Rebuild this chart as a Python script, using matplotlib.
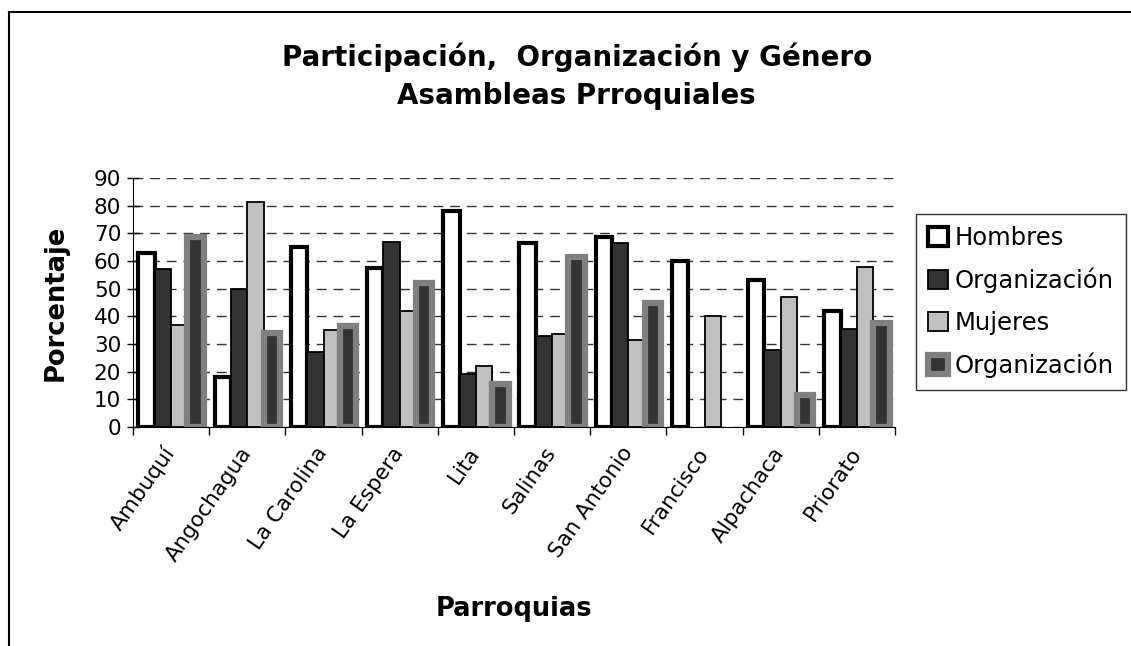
import numpy as np
import matplotlib.pyplot as plt
from matplotlib.lines import Line2D

parroquias = ['Ambuquí', 'Angochagua', 'La Carolina', 'La Espera', 'Lita',
              'Salinas', 'San Antonio', 'Francisco', 'Alpachaca', 'Priorato']
hombres = [63, 18, 65, 57.5, 78, 66.5, 68.5, 60, 53, 42]
org_hombres = [57, 50, 27, 67, 19, 33, 66.5, np.nan, 28, 35.5]
mujeres = [37, 81.5, 35, 42, 22, 33.5, 31.5, 40, 47, 58]
org_mujeres = [68.5, 34, 36.5, 52, 15.5, 61.5, 45, np.nan, 11.5, 37.5]

W, H = 1131, 646
fig = plt.figure(figsize=(W / 100, H / 100), dpi=100)
ax = fig.add_axes([133 / W, 1 - 427 / H, 762 / W, 249 / H])

x = np.arange(len(parroquias))
w = 0.215
ax.bar(x - 1.5 * w, hombres, w, color='white', edgecolor='black', lw=3, label='Hombres')
ax.bar(x - 0.5 * w, org_hombres, w, color='#333333', edgecolor='black', lw=1.3, label='Organización')
ax.bar(x + 0.5 * w, mujeres, w, color='#c0c0c0', edgecolor='black', lw=1.3, label='Mujeres')
ax.bar(x + 1.5 * w, org_mujeres, w, color='#333333', edgecolor='#808080', lw=4.5, label='Organización')

ax.set_xlim(-0.5, len(parroquias) - 0.5)
ax.set_ylim(0, 90)
ax.set_yticks(range(0, 91, 10))
ax.set_xticks(np.arange(-0.5, len(parroquias)), labels=[])
ax.set_xticks(x, minor=True)
ax.set_xticklabels(parroquias, minor=True, rotation=55, ha='right', va='center',
                   rotation_mode='anchor', fontsize=15.5)
ax.tick_params(axis='x', which='minor', length=0, pad=16)
ax.tick_params(axis='x', which='major', length=6, direction='out', width=1)
ax.tick_params(axis='y', direction='inout', length=9, width=1, labelsize=15.5, pad=4)

ax.yaxis.grid(True, linestyle=(0, (7, 5)), color='#333333', lw=1)
ax.set_axisbelow(True)
for s in ['top', 'right']:
    ax.spines[s].set_visible(False)

ax.set_ylabel('Porcentaje', fontsize=18.5, fontweight='bold', labelpad=18)
ax.set_xlabel('Parroquias', fontsize=18.5, fontweight='bold', labelpad=22)
fig.text(0.51, 1 - 76 / H, 'Participación,  Organización y Género\nAsambleas Prroquiales',
         ha='center', va='center', fontsize=20, fontweight='bold', linespacing=1.45)

leg = ax.legend(loc='upper left', bbox_to_anchor=(916 / W, 1 - 214 / H),
                bbox_transform=fig.transFigure, borderaxespad=0, fontsize=17.5,
                frameon=True, fancybox=False, edgecolor='black',
                handlelength=0.8, handleheight=0.8, handletextpad=0.3,
                labelspacing=0.72, borderpad=0.5)
leg.get_frame().set_linewidth(1)

# marco del grafico (solo izquierda y arriba visibles)
fig.add_artist(Line2D([8.5 / W, 8.5 / W], [0, 1 - 11.5 / H], color='black', lw=1.5))
fig.add_artist(Line2D([8.5 / W, 1], [1 - 11.5 / H, 1 - 11.5 / H], color='black', lw=1.5))

fig.savefig('out.png', dpi=100)
